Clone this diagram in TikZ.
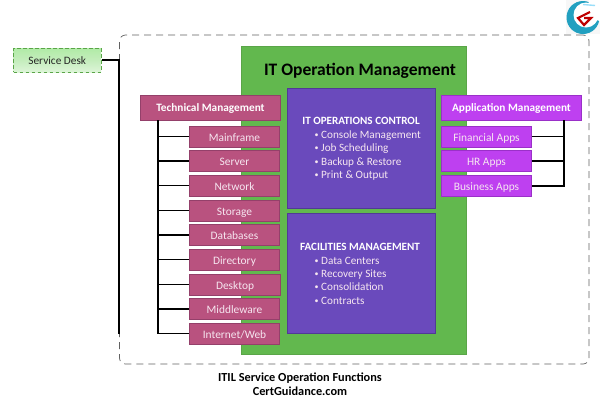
\documentclass[tikz,border=0pt]{standalone}
\usepackage{fontspec}
\setmainfont{Carlito}
\definecolor{grn}{HTML}{62B84E}
\definecolor{grnd}{HTML}{5AA548}
\definecolor{pur}{HTML}{6A4ABC}
\definecolor{purd}{HTML}{513A96}
\definecolor{rose}{HTML}{B9527F}
\definecolor{rosed}{HTML}{94406A}
\definecolor{vio}{HTML}{BE40F0}
\definecolor{viod}{HTML}{9A30C8}
\definecolor{txtl}{HTML}{F6E6F0}
\definecolor{sdtop}{HTML}{B0EBA6}
\definecolor{sdmid}{HTML}{C4EDBC}
\definecolor{sdbot}{HTML}{DDF5D8}
\definecolor{logoc}{HTML}{22A0C0}
\newcommand{\blt}{\makebox[6.5pt][l]{\fontsize{8}{8}\selectfont\raisebox{.8pt}{•}}}
\tikzset{
 rosebox/.style={draw=rosed,line width=.8pt,fill=rose,text=txtl,inner sep=0pt,font=\fontsize{11.4}{14}\selectfont,minimum width=90.5pt,minimum height=21pt,text height=10.5pt,text depth=1pt},
 rosehead/.style={rosebox,font=\fontsize{11.3}{14}\selectfont\bfseries,text=white,minimum width=140pt,minimum height=25pt,text height=9pt,text depth=2pt},
 viobox/.style={draw=viod,line width=.8pt,fill=vio,text=txtl,inner sep=0pt,font=\fontsize{11.4}{14}\selectfont,minimum width=90.5pt,minimum height=21pt,text height=10.5pt,text depth=1pt},
 viohead/.style={viobox,font=\fontsize{11.3}{14}\selectfont\bfseries,text=white,minimum width=140pt,minimum height=25pt,text height=9pt,text depth=2pt},
 purbox/.style={draw=purd,line width=.8pt,fill=pur,inner sep=0pt,minimum width=148pt,minimum height=120pt},
 ptitle/.style={text=white,inner sep=0pt,anchor=base,font=\fontsize{11.1}{14}\selectfont\bfseries},
 plist/.style={text=txtl,inner sep=0pt,anchor=base west,font=\fontsize{11.2}{14}\selectfont},
 wire/.style={draw=black,line width=1.3pt},
 captext/.style={inner sep=0pt,anchor=base,font=\fontsize{12.3}{14}\selectfont\bfseries}
}
\begin{document}
\begin{tikzpicture}[x=1pt,y=-1pt]
\useasboundingbox (0,0) rectangle (600,400);
% outer frame
\node (frame) [draw=black!62,dash pattern=on 7pt off 5pt,line width=.7pt,rounded corners=6pt,inner sep=0pt,minimum width=469.5pt,minimum height=329pt] at (354.25,199.5) {};
% green
\node (ops) [draw=grnd,line width=.8pt,fill=grn,inner sep=0pt,minimum width=225pt,minimum height=308pt] at (353.5,200) {};
\node (opstitle) [inner sep=0pt,anchor=base,font=\fontsize{17.5}{20}\selectfont\bfseries] at (360,75.3) {IT Operation Management};
% service desk
\node (svc) [draw=grnd,dash pattern=on 3.5pt off 2.5pt,line width=1pt,top color=sdtop,bottom color=sdbot,middle color=sdmid,inner sep=0pt,minimum width=87.5pt,minimum height=24pt,font=\fontsize{11.3}{14}\selectfont,text=black!85,text height=10pt,text depth=1.4pt] at (57.25,60) {Service Desk};
\coordinate (bus) at (119,60);
\coordinate (busend) at (119,334);
\draw[wire] (svc.east) -- (bus) -- (busend);
% technical
\coordinate (ttop) at (158,120);
\coordinate (tend) at (158,333.5);
\node (tm) [rosehead] at (210.5,107.5) {Technical Management};
\node (t1) [rosebox] at (234.5,136.5) {Mainframe};
\node (t2) [rosebox] at (234.5,161) {Server};
\node (t3) [rosebox] at (234.5,185.5) {Network};
\node (t4) [rosebox] at (234.5,210.5) {Storage};
\node (t5) [rosebox] at (234.5,235) {Databases};
\node (t6) [rosebox] at (234.5,259.5) {Directory};
\node (t7) [rosebox] at (235,284.5) {Desktop};
\node (t8) [rosebox] at (234.5,309) {Middleware};
\node (t9) [rosebox] at (234.5,333.5) {Internet/Web};
\draw[wire] (ttop) -- (tend) -- (t9.west);
\foreach \n in {t1,t2,t3,t4,t5,t6,t7,t8}{\draw[wire] (ttop |- \n.west) -- (\n.west);}
% purple
\node (ctl) [purbox] at (361,148) {};
\node (fac) [purbox] at (361,273.5) {};
\node (ctlt) [ptitle] at (361,124.3) {IT OPERATIONS CONTROL};
\node (ctl1) [plist] at (314.5,138) {\blt Console Management};
\node (ctl2) [plist] at (314.5,151.5) {\blt Job Scheduling};
\node (ctl3) [plist] at (314.5,165) {\blt Backup \& Restore};
\node (ctl4) [plist] at (314.5,178.5) {\blt Print \& Output};
\node (fact) [ptitle] at (360,250) {FACILITIES MANAGEMENT};
\node (fac1) [plist] at (314.5,264) {\blt Data Centers};
\node (fac2) [plist] at (314.5,277.7) {\blt Recovery Sites};
\node (fac3) [plist] at (314.5,290.7) {\blt Consolidation};
\node (fac4) [plist] at (314.5,304) {\blt Contracts};
% application
\coordinate (atop) at (564,120);
\node (am) [viohead] at (511.5,107.5) {Application Management};
\node (a1) [viobox] at (486.5,136.5) {Financial Apps};
\node (a2) [viobox] at (486.5,161) {HR Apps};
\node (a3) [viobox] at (486.5,186) {Business Apps};
\draw[wire] (atop) -- (atop |- a3.east) -- (a3.east);
\foreach \n in {a1,a2}{\draw[wire] (atop |- \n.east) -- (\n.east);}
% caption
\node (c1) [captext] at (300,381.7) {ITIL Service Operation Functions};
\node (c2) [captext] at (300,395) {CertGuidance.com};
% logo
\fill[black!3] (566,0) rectangle (600,34);
\fill[logoc] (583,17.5) circle[radius=16.5pt];
\fill[white] (586,15) circle[radius=12.5pt];
\fill[white] (586,15) -- (606,24) -- (606,-4) -- (590,-4) -- cycle;
\draw[line width=1.4pt,color=cyan!40!white] (583,4.5) -- (595,5.5);
\draw[line width=2.2pt,color=red!75!black,line join=miter] (590,12) -- (578,18) -- (584,25) -- (591,18) -- (584,18);
\end{tikzpicture}
\end{document}
